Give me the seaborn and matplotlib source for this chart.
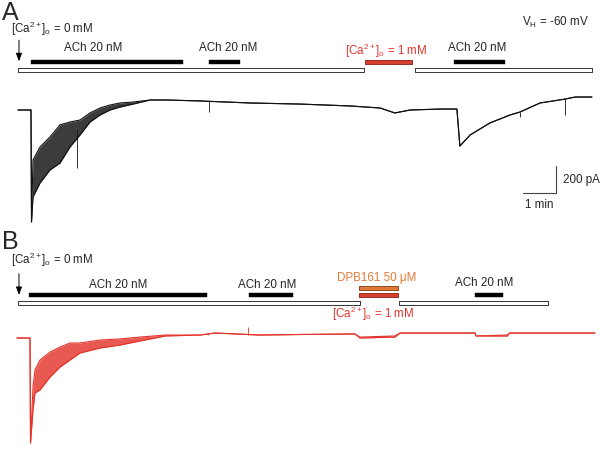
import matplotlib
matplotlib.use("Agg")
import matplotlib.pyplot as plt
import seaborn as sns
import pandas as pd

# ---------------- data (time in min, current in pA) ----------------
# Panel A trace: upper / lower envelope of the recorded current
a_t  = [0.0, 0.394, 0.41, 0.455, 0.667, 0.970, 1.273, 1.576, 1.879, 2.182, 2.485, 2.788,
        3.091, 3.485, 4.0, 4.515, 5.515, 7.03, 8.545, 10.06, 10.97, 11.42, 11.88, 12.79,
        13.30, 13.39, 13.70, 14.30, 14.91, 15.21, 15.82, 16.58, 16.88, 17.39]
a_hi = [0, 0, -830, -370, -274, -200, -110, -89, -74, -22, 15, 37,
        52, 59, 74, 74, 67, 52, 44, 30, 15, -22, 0, 7,
        7, -267, -185, -96, -37, -15, 52, 81, 96, 96]
a_lo = [0, 0, -830, -644, -541, -444, -393, -274, -185, -89, -37, 0,
        22, 44, 74, 74, 67, 52, 44, 30, 15, -22, 0, 7,
        7, -267, -185, -96, -37, -15, 52, 81, 96, 96]
a_spike_t    = [1.788, 5.79, 15.21, 16.58]
a_spike_base = [-150, 67, -15, 81]
a_spike_tip  = [-430, -15, -52, -37]

# Panel B trace
b_t  = [-0.03, 0.364, 0.38, 0.455, 0.515, 0.667, 0.970, 1.273, 1.576, 1.879, 2.485, 3.091,
        3.697, 4.455, 5.515, 5.97, 7.33, 8.545, 10.21, 10.36, 11.42, 11.58, 13.85, 13.88,
        14.82, 14.90, 17.48]
b_hi = [0, 0, -778, -363, -237, -163, -104, -67, -37, -37, -15, -7,
        7, 22, 22, 37, 22, 26, 30, 7, 15, 37, 37, 15,
        22, 37, 37]
b_lo = [0, 0, -778, -533, -407, -385, -289, -215, -163, -111, -74, -52,
        -22, 15, 22, 37, 22, 26, 30, 0, 7, 37, 37, 15,
        15, 37, 37]
b_spike_t    = [5.76, 6.97]
b_spike_base = [22, 22]
b_spike_tip  = [37, 81]

# Drug application periods (min)
a_ach_start, a_ach_end = [0.394, 5.79, 13.21], [5.0, 6.73, 14.76]
a_ca0_start, a_ca0_end = [0.0, 12.03], [10.48, 17.39]
a_ca1_start, a_ca1_end = [10.52], [11.94]
b_ach_start, b_ach_end = [0.333, 7.0, 13.85], [5.727, 8.333, 14.70]
b_ca0_start, b_ca0_end = [0.0, 11.55], [10.36, 16.06]
b_ca1_start, b_ca1_end = [10.33], [11.52]
b_dpb_start, b_dpb_end = [10.33], [11.52]

ach_label = "ACh 20 nM"
ca0_label = r"[Ca$^{2+}$]$_o$ = 0 mM"
ca1_label = r"[Ca$^{2+}$]$_o$ = 1 mM"
dpb_label = "DPB161 50 \u03bcM"
vh_label = r"V$_H$ = -60 mV"
scale_i_label, scale_t_label = "200 pA", "1 min"
scale_i, scale_t = 200, 1.0

# ---------------- style ----------------
sns.set_theme(style="white")
plt.rcParams["font.family"] = ["Liberation Sans", "DejaVu Sans"]
plt.rcParams["mathtext.fontset"] = "custom"
plt.rcParams["mathtext.rm"] = "Liberation Sans"
plt.rcParams["mathtext.it"] = "Liberation Sans:italic"
plt.rcParams["mathtext.default"] = "regular"

RED = "#e3342c"
ORANGE = "#e27a36"
FS = 8.4

fig = plt.figure(figsize=(6.0, 4.49), dpi=100)
axA = fig.add_axes([0, 224 / 449, 1, 225 / 449])
axB = fig.add_axes([0, 0, 1, 224 / 449])
for ax in (axA, axB):
    ax.set_xlim(-0.545, 17.636)
    ax.set_axis_off()
axA.set_ylim(-852, 815)
axB.set_ylim(-822, 837)


def draw_trace(ax, t, hi, lo, st, sb, stip, color):
    df = pd.DataFrame({"t": t + t, "i": hi + lo,
                       "edge": ["hi"] * len(t) + ["lo"] * len(t)})
    ax.fill_between(t, lo, hi, color=color, lw=0, alpha=0.82)
    sns.lineplot(data=df, x="t", y="i", units="edge", ax=ax, color=color, lw=0.8,
                 estimator=None, sort=False)
    ax.vlines(st, sb, stip, color=color, lw=0.6)


draw_trace(axA, a_t, a_hi, a_lo, a_spike_t, a_spike_base, a_spike_tip, "#111111")
draw_trace(axB, b_t, b_hi, b_lo, b_spike_t, b_spike_base, b_spike_tip, RED)


def bars(ax, starts, ends, yc, h, face, edge, lw=0.6):
    tr = ax.get_xaxis_transform()
    ax.broken_barh([(s, e - s) for s, e in zip(starts, ends)], (yc - h / 2, h),
                   facecolors=face, edgecolors=edge, linewidths=lw, transform=tr,
                   clip_on=False)


# ---- Panel A annotations ----
bars(axA, a_ca0_start, a_ca0_end, 0.689, 0.016, "white", "#333333", 0.7)
bars(axA, a_ach_start, a_ach_end, 0.724, 0.018, "black", "black", 0.3)
bars(axA, a_ca1_start, a_ca1_end, 0.724, 0.018, "#d8402e", "#8a1f15", 0.6)
trA = axA.get_xaxis_transform()
for xc in [2.27, 6.36, 13.91]:
    axA.text(xc, 0.787, ach_label, transform=trA, ha="center", va="center", fontsize=FS)
axA.text(11.15, 0.772, ca1_label, transform=trA, ha="center", va="center",
         fontsize=FS, color=RED)
axA.text(-0.21, 0.870, ca0_label, transform=trA, ha="left", va="center", fontsize=FS)
axA.text(15.27, 0.898, vh_label, transform=trA, ha="left", va="center", fontsize=FS)
axA.text(-0.49, 0.91, "A", transform=trA, ha="left", va="baseline", fontsize=18)
axA.annotate("", xy=(0.03, 0.715), xytext=(0.03, 0.834), xycoords=trA, textcoords=trA,
             arrowprops=dict(arrowstyle="-|>,head_width=0.15,head_length=0.4",
                             color="black", lw=0.7))
# scale bar
sx, sy = 16.30, -615
axA.plot([sx - scale_t, sx, sx], [sy, sy, sy + scale_i], color="#444444", lw=0.8)
axA.text(sx + 0.22, sy + scale_i / 2, scale_i_label, ha="left", va="center", fontsize=FS)
axA.text(sx - scale_t / 2, sy - 90, scale_t_label, ha="center", va="center", fontsize=FS)

# ---- Panel B annotations ----
bars(axB, b_ca0_start, b_ca0_end, 0.652, 0.016, "white", "#333333", 0.7)
bars(axB, b_ach_start, b_ach_end, 0.688, 0.018, "black", "black", 0.3)
bars(axB, b_ca1_start, b_ca1_end, 0.688, 0.018, "#d8402e", "#8a1f15", 0.6)
bars(axB, b_dpb_start, b_dpb_end, 0.720, 0.017, ORANGE, "#7a3a10", 0.6)
trB = axB.get_xaxis_transform()
for xc, yc in [(3.03, 0.732), (7.55, 0.732), (14.12, 0.741)]:
    axB.text(xc, yc, ach_label, transform=trB, ha="center", va="center", fontsize=FS)
axB.text(10.88, 0.763, dpb_label, transform=trB, ha="center", va="center",
         fontsize=FS, color=ORANGE)
axB.text(10.76, 0.603, ca1_label, transform=trB, ha="center", va="center",
         fontsize=FS, color=RED)
axB.text(-0.21, 0.846, ca0_label, transform=trB, ha="left", va="center", fontsize=FS)
axB.text(-0.49, 0.895, "B", transform=trB, ha="left", va="baseline", fontsize=18)
axB.annotate("", xy=(0.03, 0.675), xytext=(0.03, 0.795), xycoords=trB, textcoords=trB,
             arrowprops=dict(arrowstyle="-|>,head_width=0.15,head_length=0.4",
                             color="black", lw=0.7))

fig.savefig("out.png", dpi=100, facecolor="white")
